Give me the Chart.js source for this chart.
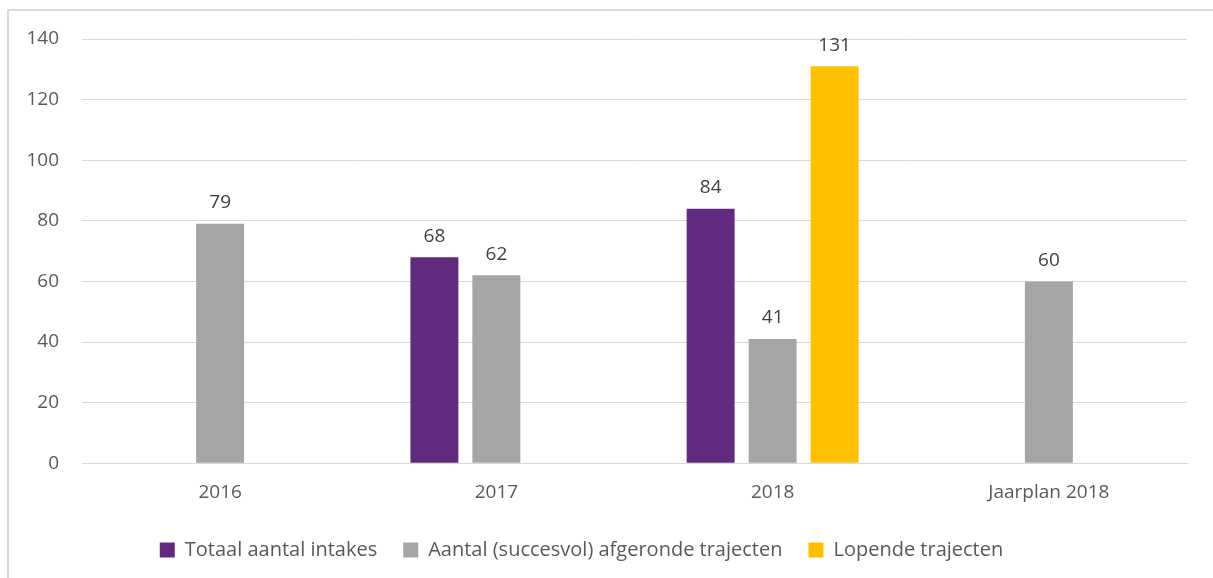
<!DOCTYPE html>
<html>
<head>
<meta charset="utf-8">
<script src="https://cdn.jsdelivr.net/npm/chart.js@4/dist/chart.umd.min.js"></script>
<style>
  html, body { margin: 0; padding: 0; background: #ffffff; }
  #wrap { position: relative; width: 1213px; height: 578px; }
  canvas { position: absolute; left: 0; top: 0; }
</style>
</head>
<body>
<div id="wrap"><canvas id="c" width="1213" height="578"></canvas></div>
<script>
const categories = ['2016', '2017', '2018', 'Jaarplan 2018'];
const seriesNames = ['Totaal aantal intakes', 'Aantal (succesvol) afgeronde trajecten', 'Lopende trajecten'];
const intakes = [null, 68, 84, null];
const afgerond = [79, 62, 41, 60];
const lopend = [null, null, 131, null];
const yTicks = [0, 20, 40, 60, 80, 100, 120, 140];

const FONT = "'Open Sans', 'Noto Sans', sans-serif";
const TEXT = '#595959';

// Thin outer frame of the chart object
const framePlugin = {
  id: 'frame',
  beforeDraw(chart) {
    const ctx = chart.ctx;
    ctx.save();
    ctx.strokeStyle = '#d9d9d9';
    ctx.lineWidth = 2;
    ctx.strokeRect(8, 10, 1240, 620);
    ctx.restore();
  }
};

// Nudge the legend row a little to the left of centre
const legendShift = {
  id: 'legendShift',
  afterLayout(chart) {
    const lg = chart.legend;
    if (lg) { lg.left -= 22; lg.right -= 22; }
  }
};

// Value labels above each bar
const valueLabels = {
  id: 'valueLabels',
  afterDatasetsDraw(chart) {
    const ctx = chart.ctx;
    ctx.save();
    ctx.font = "19px " + FONT;
    ctx.fillStyle = '#404040';
    ctx.textAlign = 'center';
    ctx.textBaseline = 'middle';
    chart.data.datasets.forEach((ds, i) => {
      const meta = chart.getDatasetMeta(i);
      meta.data.forEach((bar, j) => {
        const v = ds.data[j];
        if (v === null || v === undefined) return;
        ctx.fillText(String(v), bar.x, bar.y - 21);
      });
    });
    ctx.restore();
  }
};

new Chart(document.getElementById('c'), {
  type: 'bar',
  data: {
    labels: categories,
    datasets: [
      { label: seriesNames[0], data: intakes, backgroundColor: '#622a7e' },
      { label: seriesNames[1], data: afgerond, backgroundColor: '#a5a5a5' },
      { label: seriesNames[2], data: lopend, backgroundColor: '#ffc000' }
    ]
  },
  options: {
    responsive: false,
    animation: false,
    categoryPercentage: 0.673,
    barPercentage: 0.774,
    layout: { padding: { left: 20, right: 26, top: 39, bottom: 8 } },
    plugins: {
      legend: {
        position: 'bottom',
        labels: {
          font: { family: FONT, size: 20 },
          color: TEXT,
          boxWidth: 15,
          boxHeight: 15,
          padding: 26
        }
      },
      tooltip: { enabled: false }
    },
    scales: {
      x: {
        grid: { display: false },
        border: { display: true, color: '#d9d9d9', width: 1 },
        ticks: { font: { family: FONT, size: 19 }, color: TEXT, padding: 10 }
      },
      y: {
        min: 0,
        max: 140,
        afterFit(scale) { scale.width = 62; },
        afterBuildTicks(scale) { scale.ticks = yTicks.map(v => ({ value: v })); },
        grid: { color: '#d9d9d9', lineWidth: 1, drawTicks: false },
        border: { display: false },
        ticks: { font: { family: FONT, size: 19 }, color: TEXT, padding: 23 }
      }
    }
  },
  plugins: [framePlugin, legendShift, valueLabels]
});
</script>
</body>
</html>
